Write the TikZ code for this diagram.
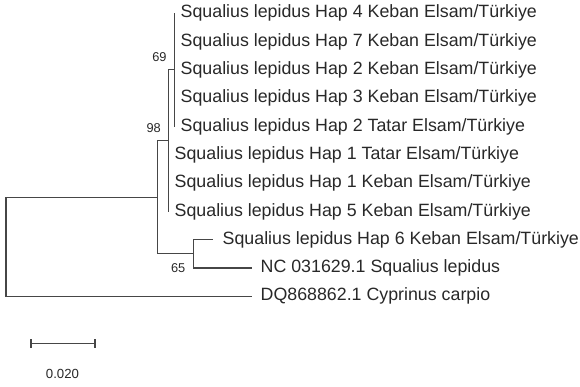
\documentclass[tikz,border=0pt]{standalone}
\usepackage{fontspec}
\setmainfont{Liberation Sans}
\definecolor{treeline}{RGB}{70,70,70}
\definecolor{treetext}{RGB}{40,40,40}
\begin{document}
\begin{tikzpicture}[x=1pt,y=-1pt,
  branch/.style={draw=treeline,line width=1.1pt,line cap=rect},
  taxon/.style={anchor=west,inner sep=0pt,text=treetext,font=\fontsize{17.8}{20}\selectfont},
  boot/.style={inner sep=0pt,text=treetext,font=\fontsize{12.8}{14}\selectfont}]
\useasboundingbox (0,0) rectangle (580,386);
% internal nodes
\coordinate (n69) at (174.5,69.9);
\coordinate (n98) at (168.7,140.65);
\coordinate (nA) at (157.5,197.25);
\coordinate (n65) at (193.3,253.85);
\coordinate (root) at (6,246.8);
% tips
\coordinate (t9) at (212.7,239.7);
\coordinate (t10) at (251.7,268.0);
\coordinate (t11) at (251.7,296.3);
% taxon labels
\node[taxon] (l1) at (180.5,13.3) {Squalius lepidus Hap 4 Keban Elsam/Türkiye};
\node[taxon] (l2) at (180.5,41.6) {Squalius lepidus Hap 7 Keban Elsam/Türkiye};
\node[taxon] (l3) at (180.5,69.9) {Squalius lepidus Hap 2 Keban Elsam/Türkiye};
\node[taxon] (l4) at (180.5,98.2) {Squalius lepidus Hap 3 Keban Elsam/Türkiye};
\node[taxon] (l5) at (180.5,126.5) {Squalius lepidus Hap 2 Tatar Elsam/Türkiye};
\node[taxon] (l6) at (174.5,154.8) {Squalius lepidus Hap 1 Tatar Elsam/Türkiye};
\node[taxon] (l7) at (174.5,183.1) {Squalius lepidus Hap 1 Keban Elsam/Türkiye};
\node[taxon] (l8) at (174.5,211.4) {Squalius lepidus Hap 5 Keban Elsam/Türkiye};
\node[taxon] (l9) at (222.5,239.7) {Squalius lepidus Hap 6 Keban Elsam/Türkiye};
\node[taxon] (l10) at (260.5,268.0) {NC 031629.1 Squalius lepidus};
\node[taxon] (l11) at (260.5,296.3) {DQ868862.1 Cyprinus carpio};
% clade 69
\draw[branch] (n69 |- l1.west) -- (n69 |- l5.west);
\draw[branch] (n98 |- n69) -- (n69);
% clade 98
\draw[branch] (n98 |- n69) -- (n98 |- l8.west);
\draw[branch] (nA |- n98) -- (n98);
% ingroup
\draw[branch] (nA |- n98) -- (nA |- n65);
\draw[branch] (nA |- n65) -- (n65);
% clade 65
\draw[branch] (n65 |- t9) -- (n65 |- t10);
\draw[branch] (n65 |- t9) -- (t9);
\draw[branch] (n65 |- t10) -- (t10);
% root
\draw[branch] (root |- nA) -- (root |- t11);
\draw[branch] (root |- nA) -- (nA);
\draw[branch] (root |- t11) -- (t11);
% bootstrap values
\node[boot,anchor=east] (b69) at (166.7,57.5) {69};
\node[boot,anchor=east] (b98) at (161,128) {98};
\node[boot,anchor=east] (b65) at (185.5,268) {65};
% scale bar
\coordinate (sbl) at (31,343.3);
\coordinate (sbr) at (95,343.3);
\draw[branch,line cap=butt] (sbl) -- (sbr);
\draw[branch,line cap=butt] ([yshift=-4.5pt]sbl) -- ([yshift=4.5pt]sbl);
\draw[branch,line cap=butt] ([yshift=-4.5pt]sbr) -- ([yshift=4.5pt]sbr);
\node[boot,font=\fontsize{13.2}{15}\selectfont] (sblab) at (62.5,374) {0.020};
\end{tikzpicture}
\end{document}
